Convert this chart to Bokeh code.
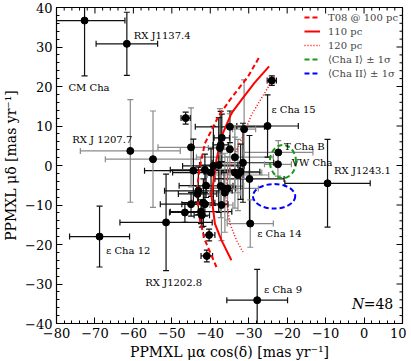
import numpy as np
from bokeh.plotting import figure
from bokeh.models import (ColumnDataSource, Range1d, FixedTicker, Legend, LegendItem)
from bokeh.core.properties import value
from bokeh.embed import file_html
from bokeh.resources import INLINE

# ---------------- data ----------------
pmra = [-72.7, -61.7, -60.8, -54.9, -51.5, -68.8, -27.8, -29.6, -9.5, -22.3,
        -22.4, -24.0, -25.1, -46.4, -34.9, -31.2, -45.0, -37.3, -37.5, -34.9,
        -33.6, -31.5, -44.4, -41.4, -39.2, -39.8, -37.8, -33.6, -32.8, -32.1,
        -29.8, -41.1, -37.3, -36.4, -35.5, -43.1, -43.3, -36.2, -45.0, -41.8,
        -41.4, -37.1, -46.6, -42.4, -42.2, -40.3, -40.9, -37.0]
pmde = [36.7, 30.8, 3.7, 1.6, -14.4, -18.0, -34.1, -14.7, -4.5, 3.3,
        0.3, 21.5, 10.0, 12.0, 9.8, 9.2, 4.6, 5.2, 4.4, 4.1,
        2.1, 0.7, -1.3, -1.1, -0.1, -1.8, 0.1, -1.8, -2.4, -1.6,
        -3.4, -5.1, -5.2, -5.8, -5.8, -6.4, -7.2, -6.9, -9.8, -9.4,
        -9.8, -10.0, -11.9, -11.7, -12.6, -17.6, -22.9, 7.0]
e_pmra = [10.5, 8.0, 13.0, 12.4, 12.0, 7.8, 7.9, 6.0, 11.1, 9.0,
          3.5, 1.2, 8.0, 1.2, 9.0, 3.0, 8.6, 2.0, 3.0, 2.0,
          10.0, 8.0, 12.7, 9.0, 8.0, 10.0, 5.0, 7.0, 8.0, 5.0,
          9.0, 7.0, 6.0, 3.0, 8.0, 8.8, 5.0, 4.0, 8.0, 3.0,
          6.0, 3.0, 4.0, 8.0, 2.0, 1.5, 1.5, 2.0]
e_pmde = [14.0, 8.0, 13.0, 12.2, 12.2, 7.7, 7.8, 6.0, 11.1, 3.0,
          3.0, 1.2, 7.9, 1.5, 4.0, 12.5, 10.0, 8.5, 10.0, 9.0,
          8.0, 10.0, 8.0, 4.0, 10.0, 6.0, 12.0, 9.0, 9.0, 7.0,
          11.0, 3.0, 8.0, 4.0, 8.0, 6.0, 2.0, 10.0, 3.0, 6.0,
          3.0, 9.0, 2.5, 3.0, 3.0, 1.5, 1.5, 6.0]
bar_gray = [0, 0, 1, 1, 0, 0, 0, 1, 0, 1,
            1, 0, 0, 0, 0, 1, 1, 0, 1, 1,
            1, 0, 0, 0, 0, 0, 0, 1, 1, 0,
            0, 0, 1, 0, 1, 0, 0, 1, 0, 0,
            0, 1, 0, 0, 0, 0, 0, 0]

label_text = ["CM Cha", "RX J1137.4", "RX J 1207.7", "ε Cha 15", "T Cha B",
              "VW Cha", "RX J1243.1", "ε Cha 12", "RX J1202.8", "ε Cha 14",
              "ε Cha 9"]
label_x = [-76.9, -59.9, -75.9, -24.1, -20.8, -18.8, -7.8, -67.1, -56.9, -27.8, -26.0]
label_y = [19.7, 32.9, 6.7, 14.1, 4.8, 0.7, -1.3, -21.4, -29.6, -17.2, -31.4]

# T08 predicted proper motions at three distances
t100_x = [-27.4, -30.2, -34.9, -37.9, -41.4, -42.7, -43.5, -43.3, -42.7, -41.4, -38.4]
t100_y = [27.2, 22.5, 16.6, 12.4, 5.6, -0.3, -6.2, -8.8, -13.8, -18.9, -25.7]
t110_x = [-24.7, -28.5, -31.9, -34.5, -37.1, -38.4, -39.2, -39.7, -38.8, -37.1, -34.5]
t110_y = [25.1, 20.9, 16.6, 13.2, 7.3, 1.4, -4.5, -7.5, -14.7, -18.9, -24.0]
t120_x = [-23.3, -25.9, -29.3, -31.9, -34.0, -35.5, -36.0, -34.9, -33.2, -31.5]
t120_y = [22.5, 18.3, 12.8, 6.5, 2.0, -2.4, -7.5, -14.7, -18.9, -21.9]

# mean cloud motions +- 1 sigma
cloud_x = [-21.1, -23.4]
cloud_y = [1.0, -7.8]
cloud_sx = [3.4, 5.5]
cloud_sy = [4.2, 3.1]
cloud_color = ["#1a9a1a", "#0000ff"]
cloud_label = ["⟨Cha I⟩ ± 1σ", "⟨Cha II⟩ ± 1σ"]

n_x = [7.6]
n_y = [-35.0]

xticks = [-80, -70, -60, -50, -40, -30, -20, -10, 0, 10]
yticks = [-40, -30, -20, -10, 0, 10, 20, 30, 40]
XMIN, XMAX, YMIN, YMAX = -80, 10, -40, 40

# ---------------- figure ----------------
FONT = "DejaVu Serif"
p = figure(frame_width=346, frame_height=316, output_backend="svg",
           toolbar_location=None, x_range=Range1d(XMIN, XMAX), y_range=Range1d(YMIN, YMAX),
           min_border_top=7, min_border_right=4, min_border_left=0, min_border_bottom=0,
           background_fill_color="white", border_fill_color="white")
p.grid.visible = False
p.outline_line_color = "black"
p.outline_line_width = 1.2

xminor = [t for t in np.arange(XMIN, XMAX + 0.1, 2) if t not in xticks]
yminor = [t for t in np.arange(YMIN, YMAX + 0.1, 2) if t not in yticks]

def style_axis(ax, ticks, minor):
    ax.ticker = FixedTicker(ticks=ticks, minor_ticks=list(np.arange(min(ticks), max(ticks) + 0.1, 2)))
    ax.axis_line_color = None
    ax.major_tick_in = 6
    ax.major_tick_out = 0
    ax.minor_tick_in = 3
    ax.minor_tick_out = 0
    ax.major_tick_line_color = "black"
    ax.minor_tick_line_color = "black"
    ax.major_label_overrides = {t: str(t).replace("-", "−") for t in ticks}
    ax.major_label_text_font = FONT
    ax.major_label_text_font_size = "13px"
    ax.major_label_text_color = "black"
    ax.major_label_standoff = 4
    ax.axis_label_text_font = FONT
    ax.axis_label_text_font_size = "14px"
    ax.axis_label_text_font_style = "normal"
    ax.axis_label_text_color = "black"
    ax.axis_label_standoff = 3

style_axis(p.xaxis[0], xticks, xminor)
style_axis(p.yaxis[0], yticks, yminor)
p.xaxis[0].axis_label = "PPMXL μα cos(δ) [mas yr⁻¹]"
p.yaxis[0].axis_label = "PPMXL μδ [mas yr⁻¹]"

# mirrored inward ticks on top and right edges (markers clipped by the frame)
tk = dict(line_color="black", line_width=1)
p.scatter(x=xticks, y=[YMAX] * len(xticks), marker="dash", angle=np.pi / 2, size=12, **tk)
p.scatter(x=xminor, y=[YMAX] * len(xminor), marker="dash", angle=np.pi / 2, size=6, **tk)
p.scatter(x=[XMAX] * len(yticks), y=yticks, marker="dash", size=12, **tk)
p.scatter(x=[XMAX] * len(yminor), y=yminor, marker="dash", size=6, **tk)

# ---------------- error bars ----------------
ra = np.array(pmra); de = np.array(pmde)
era = np.array(e_pmra); ede = np.array(e_pmde)
cols = ["#8a8a8a" if g else "#111111" for g in bar_gray]
src = ColumnDataSource(dict(x=ra, y=de, xl=ra - era, xh=ra + era,
                            yl=de - ede, yh=de + ede, c=cols))
p.segment(x0="xl", y0="y", x1="xh", y1="y", source=src, line_color="c", line_width=1.2)
p.segment(x0="x", y0="yl", x1="x", y1="yh", source=src, line_color="c", line_width=1.2)
for xf, yf, ang in (("xl", "y", np.pi / 2), ("xh", "y", np.pi / 2),
                    ("x", "yl", 0.0), ("x", "yh", 0.0)):
    p.scatter(x=xf, y=yf, source=src, marker="dash", size=6, angle=ang,
              line_color="c", line_width=1.2)

# ---------------- T08 curves ----------------
r100 = p.line(t100_x, t100_y, line_color="red", line_width=2, line_dash="5 3")
r110 = p.line(t110_x, t110_y, line_color="red", line_width=2)
r120 = p.line(t120_x, t120_y, line_color="red", line_width=1.5, line_dash="1 2")

# ---------------- points ----------------
p.scatter(x="x", y="y", source=src, size=7, fill_color="black", line_color="black")

# ---------------- cloud ellipses ----------------
csrc = ColumnDataSource(dict(x=cloud_x, y=cloud_y, w=[2 * s for s in cloud_sx],
                             h=[2 * s for s in cloud_sy], c=cloud_color))
p.ellipse(x="x", y="y", width="w", height="h", source=csrc, fill_color=None,
          line_color="c", line_width=2, line_dash="5 3")
# single-point lines: invisible on the plot, give dashed legend glyphs
rg = p.line(x=cloud_x[:1], y=cloud_y[:1], line_color=cloud_color[0], line_width=2, line_dash="5 3")
rb = p.line(x=cloud_x[1:], y=cloud_y[1:], line_color=cloud_color[1], line_width=2, line_dash="5 3")

# ---------------- labels ----------------
p.text(x=label_x, y=label_y, text=label_text, text_font=value(FONT),
       text_font_size="10px", text_baseline="middle", text_align="left",
       text_color="black")
p.text(x=n_x, y=n_y, text=["=48"], text_font=value(FONT), text_font_size="14px",
       text_baseline="middle", text_align="right", text_color="black")
p.text(x=n_x, y=n_y, text=["N"], text_font=value(FONT), text_font_size="14px",
       text_font_style="italic", text_baseline="middle", text_align="right",
       text_color="black", x_offset=-29)

legend = Legend(items=[LegendItem(label="T08 @ 100 pc", renderers=[r100]),
                       LegendItem(label="110 pc", renderers=[r110]),
                       LegendItem(label="120 pc", renderers=[r120]),
                       LegendItem(label=cloud_label[0], renderers=[rg]),
                       LegendItem(label=cloud_label[1], renderers=[rb])],
                location="top_right", border_line_color=None,
                background_fill_alpha=0, label_text_font=FONT,
                label_text_font_size="10px", glyph_width=16, glyph_height=12,
                label_height=12, spacing=2, padding=3, margin=4, label_standoff=8)
p.add_layout(legend)

open("out.html", "w").write(file_html(p, INLINE))
